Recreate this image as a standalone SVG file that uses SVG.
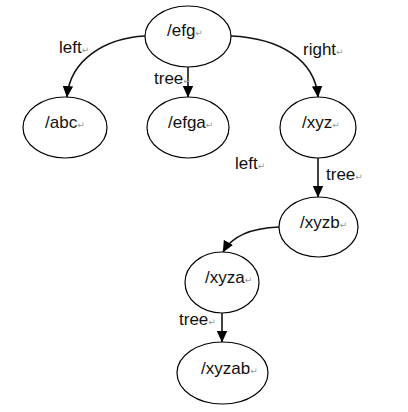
<svg xmlns="http://www.w3.org/2000/svg" width="408" height="412" viewBox="0 0 408 412">
<style>
.n{fill:#fff;stroke:#000;stroke-width:1.2}
.t{font-family:"Liberation Sans",Arial,sans-serif;font-size:17px;fill:#111}
.p{font-family:"DejaVu Sans",sans-serif;font-size:9px;fill:#999}
.c{fill:none;stroke:#111;stroke-width:1.6}
</style>
<defs>
<marker id="ah" markerUnits="userSpaceOnUse" markerWidth="12" markerHeight="12" viewBox="0 0 12 12" refX="11" refY="6" orient="auto">
<path d="M0,0.8 L11.5,6 L0,11.2 Z" fill="#000"/>
</marker>
</defs>
<rect width="408" height="412" fill="#fff"/>
<g id="connectors">
<path class="c" d="M145,36 C105,38 70,60 67,97" marker-end="url(#ah)"/>
<path class="c" d="M188,67 L188,97" marker-end="url(#ah)"/>
<path class="c" d="M231,36 C280,38 315,60 318,97" marker-end="url(#ah)"/>
<path class="c" d="M318,158 L318,197" marker-end="url(#ah)"/>
<path class="c" d="M279,227 C252,228 232,236 223,252" marker-end="url(#ah)"/>
<path class="c" d="M222,313 L222,342" marker-end="url(#ah)"/>
<text class="t" x="59" y="53">left<tspan class="p">↵</tspan></text>
<text class="t" x="154" y="84">tree<tspan class="p">↵</tspan></text>
<text class="t" x="303" y="55">right<tspan class="p">↵</tspan></text>
<text class="t" x="235" y="169">left<tspan class="p">↵</tspan></text>
<text class="t" x="326" y="180">tree<tspan class="p">↵</tspan></text>
<text class="t" x="179" y="325">tree<tspan class="p">↵</tspan></text>
</g>
<g id="efg"><ellipse class="n" cx="188" cy="36.5" rx="43" ry="30.5"/><text class="t" x="167" y="36">/efg<tspan class="p">↵</tspan></text></g>
<g id="abc"><ellipse class="n" cx="65" cy="127.5" rx="42" ry="30.5"/><text class="t" x="45" y="128">/abc<tspan class="p">↵</tspan></text></g>
<g id="efga"><ellipse class="n" cx="188" cy="127.5" rx="41" ry="30.5"/><text class="t" x="168" y="128">/efga<tspan class="p">↵</tspan></text></g>
<g id="xyz"><ellipse class="n" cx="318" cy="127.5" rx="38" ry="30.5"/><text class="t" x="302" y="128">/xyz<tspan class="p">↵</tspan></text></g>
<g id="xyzb"><ellipse class="n" cx="318.5" cy="227" rx="39.5" ry="30"/><text class="t" x="300" y="228">/xyzb<tspan class="p">↵</tspan></text></g>
<g id="xyza"><ellipse class="n" cx="222" cy="282.5" rx="37" ry="30.5"/><text class="t" x="205" y="283">/xyza<tspan class="p">↵</tspan></text></g>
<g id="xyzab"><ellipse class="n" cx="222.5" cy="373" rx="45.5" ry="31"/><text class="t" x="201" y="374">/xyzab<tspan class="p">↵</tspan></text></g>
</svg>
